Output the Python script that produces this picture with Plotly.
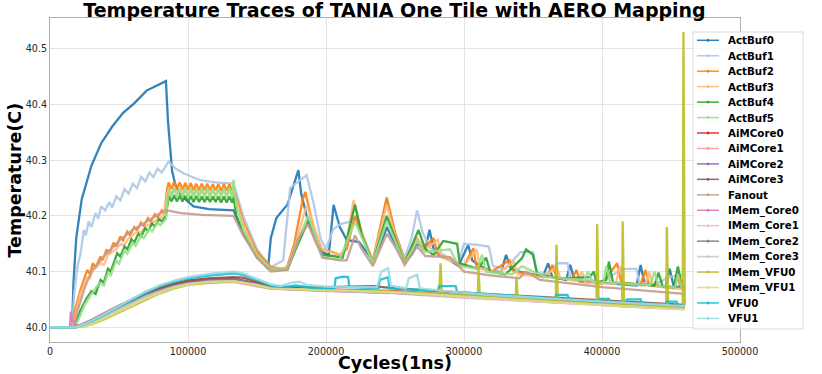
import plotly.graph_objects as go

# ---------------- data ----------------
series_names = ["ActBuf0", "ActBuf1", "ActBuf2", "ActBuf3", "ActBuf4", "ActBuf5",
                "AiMCore0", "AiMCore1", "AiMCore2", "AiMCore3", "Fanout",
                "IMem_Core0", "IMem_Core1", "IMem_Core2", "IMem_Core3",
                "IMem_VFU0", "IMem_VFU1", "VFU0", "VFU1"]

series_colors = ["#1f77b4", "#aec7e8", "#ff7f0e", "#ffbb78", "#2ca02c", "#98df8a",
                 "#d62728", "#ff9896", "#9467bd", "#8c564b", "#c49c94",
                 "#e377c2", "#f7b6d2", "#7f7f7f", "#c7c7c7",
                 "#bcbd22", "#dbdb8d", "#17becf", "#9edae5"]

x_ticks = [0, 100000, 200000, 300000, 400000, 500000]
y_ticks = [40.0, 40.1, 40.2, 40.3, 40.4, 40.5]

band_x = [86000, 88000, 90000, 92000, 94000, 96000, 98000, 100000, 102000, 104000, 106000, 108000,
          110000, 112000, 114000, 116000, 118000, 120000, 122000, 124000, 126000, 128000, 130000, 132000]

actbuf0 = [(0, 40.0), (16000, 40.0), (17000, 40.08), (19000, 40.16), (23000, 40.23), (30000, 40.29),
           (37000, 40.33), (45000, 40.36), (53000, 40.385), (61000, 40.402), (70000, 40.425),
           (78000, 40.435), (84000, 40.442), (85500, 40.37), (88500, 40.28), (91000, 40.255),
           (95000, 40.237), (104000, 40.217), (115000, 40.212), (133000, 40.21), (140000, 40.17),
           (150000, 40.13), (158000, 40.105), (160000, 40.16), (164000, 40.196), (172000, 40.22),
           (180000, 40.282), (182000, 40.24), (186000, 40.20), (190000, 40.175), (197000, 40.135),
           (202000, 40.13), (205500, 40.22), (210000, 40.18), (215000, 40.157), (224000, 40.153),
           (234000, 40.12), (240000, 40.15), (244000, 40.18), (250000, 40.15), (257000, 40.12),
           (262000, 40.13), (266000, 40.15), (272000, 40.14), (275000, 40.175), (278000, 40.14),
           (283000, 40.13), (290000, 40.12), (296000, 40.11), (303000, 40.148), (306000, 40.12),
           (312000, 40.11), (320000, 40.10), (327000, 40.10), (330500, 40.13), (334000, 40.105),
           (340000, 40.10), (350000, 40.095), (357000, 40.09), (361000, 40.115), (364000, 40.09),
           (370000, 40.087), (374000, 40.085), (377000, 40.112), (380000, 40.085), (390000, 40.082),
           (400000, 40.08), (410000, 40.078), (420000, 40.076), (425000, 40.075), (428000, 40.112),
           (431000, 40.077), (440000, 40.074), (446000, 40.072), (449000, 40.105), (452000, 40.073),
           (460000, 40.072)]

actbuf1 = [(0, 40.0), (16000, 40.0), (17500, 40.06), (20000, 40.11), (22000, 40.13), (24500, 40.175),
           (26000, 40.165), (28000, 40.19), (30000, 40.18), (33000, 40.205), (35000, 40.195),
           (37000, 40.217), (40000, 40.21), (43000, 40.225), (45000, 40.215), (48000, 40.235),
           (51000, 40.228), (54000, 40.248), (57000, 40.24), (60000, 40.258), (63000, 40.25),
           (66000, 40.27), (69000, 40.262), (72000, 40.278), (75000, 40.27), (78000, 40.285),
           (81000, 40.278), (86000, 40.298), (91000, 40.285), (97000, 40.276), (109000, 40.264),
           (120000, 40.26), (133000, 40.258), (140000, 40.2), (150000, 40.14), (160000, 40.108),
           (169000, 40.12), (174000, 40.25), (180000, 40.262), (186000, 40.273), (191000, 40.223),
           (196000, 40.16), (200000, 40.14), (205000, 40.175), (210000, 40.185), (218000, 40.19),
           (222000, 40.20), (226000, 40.17), (234000, 40.12), (244000, 40.234), (250000, 40.17),
           (257000, 40.125), (262000, 40.16), (266000, 40.21), (270000, 40.17), (276000, 40.14),
           (285000, 40.13), (296000, 40.115), (300000, 40.15), (310000, 40.148), (318000, 40.145),
           (321000, 40.11), (330000, 40.105), (341000, 40.135), (350000, 40.135), (353000, 40.098),
           (360000, 40.095), (368000, 40.115), (375000, 40.115), (377000, 40.09), (390000, 40.085),
           (400000, 40.082), (415000, 40.105), (425000, 40.105), (427000, 40.08), (440000, 40.078),
           (448000, 40.09), (459000, 40.095)]

actbuf2_head = [(0, 40.0), (16500, 40.0), (18000, 40.03), (22000, 40.067), (27000, 40.103),
                (29000, 40.095), (31000, 40.115), (33000, 40.108), (36600, 40.127), (38000, 40.12),
                (41000, 40.14), (43000, 40.132), (46000, 40.152), (48000, 40.145), (51000, 40.163),
                (53000, 40.156), (56000, 40.172), (58000, 40.165), (61000, 40.18), (63000, 40.174),
                (66000, 40.188), (68000, 40.182), (71000, 40.196), (73000, 40.19), (76000, 40.203),
                (78000, 40.197), (81000, 40.21), (83000, 40.205), (85000, 40.25)]
actbuf2_band = [40.26, 40.248, 40.262, 40.248, 40.26, 40.247, 40.259, 40.247, 40.259, 40.246, 40.258, 40.246,
                40.258, 40.246, 40.258, 40.246, 40.257, 40.246, 40.257, 40.245, 40.257, 40.245, 40.257, 40.245]
actbuf2_tail = [(133000, 40.25), (140000, 40.19), (150000, 40.135), (160000, 40.108), (170000, 40.105),
                (172000, 40.11), (177000, 40.15), (183000, 40.228), (185000, 40.243), (188000, 40.21),
                (192000, 40.17), (197000, 40.14), (205000, 40.135), (210000, 40.13), (215000, 40.14),
                (221000, 40.20), (226000, 40.165), (234000, 40.12), (244000, 40.232), (250000, 40.17),
                (257000, 40.12), (266000, 40.16), (270000, 40.14), (278000, 40.16), (281000, 40.13),
                (290000, 40.12), (300000, 40.11), (306700, 40.142), (309000, 40.11), (320000, 40.10),
                (333000, 40.12), (336000, 40.10), (350000, 40.095), (360000, 40.09), (364000, 40.112),
                (367000, 40.09), (378000, 40.085), (381500, 40.103), (384000, 40.082), (400000, 40.078),
                (411000, 40.115), (414000, 40.08), (428000, 40.077), (431500, 40.103), (434000, 40.076),
                (452000, 40.072), (455000, 40.09), (457000, 40.07), (460000, 40.068)]

actbuf3_head = [(0, 40.0), (16500, 40.0), (18000, 40.02), (22000, 40.06), (27000, 40.09), (29000, 40.088),
                (31000, 40.102), (36600, 40.115), (39000, 40.112), (42000, 40.13), (48000, 40.14),
                (51000, 40.15), (54000, 40.148), (57000, 40.16), (60000, 40.165), (63000, 40.172),
                (66000, 40.17), (69000, 40.18), (72000, 40.185), (76000, 40.19), (79000, 40.195),
                (82000, 40.2), (85000, 40.24)]
actbuf3_band = [40.25, 40.238, 40.251, 40.238, 40.25, 40.238, 40.25, 40.237, 40.25, 40.237, 40.249, 40.237,
                40.249, 40.237, 40.249, 40.237, 40.249, 40.237, 40.249, 40.236, 40.249, 40.236, 40.249, 40.236]
actbuf3_tail = [(133000, 40.245), (140000, 40.185), (150000, 40.13), (160000, 40.105), (172000, 40.107),
                (178000, 40.15), (186000, 40.22), (190000, 40.19), (197000, 40.14), (210000, 40.13),
                (214000, 40.14), (220000, 40.228), (226000, 40.17), (234000, 40.12), (244000, 40.22),
                (250000, 40.165), (257000, 40.12), (266000, 40.16), (272000, 40.14), (281000, 40.157),
                (284000, 40.125), (295000, 40.115), (300000, 40.11), (309000, 40.14), (312000, 40.105),
                (325000, 40.098), (336000, 40.118), (339000, 40.095), (358000, 40.09), (367000, 40.108),
                (370000, 40.088), (382000, 40.083), (385600, 40.10), (388000, 40.08), (410000, 40.078),
                (413000, 40.11), (416000, 40.078), (431000, 40.075), (434000, 40.10), (437000, 40.074),
                (460000, 40.068)]

actbuf4_head = [(0, 40.0), (17000, 40.0), (19000, 40.01), (22000, 40.03), (26000, 40.05), (30000, 40.065),
                (33000, 40.06), (36600, 40.085), (39000, 40.08), (42000, 40.105), (44000, 40.1),
                (48700, 40.133), (51000, 40.127), (54000, 40.145), (56000, 40.14), (59000, 40.158),
                (61000, 40.152), (64000, 40.168), (66000, 40.163), (69000, 40.178), (71000, 40.173),
                (74000, 40.186), (76000, 40.181), (79000, 40.194), (81000, 40.19), (84000, 40.2),
                (85500, 40.225)]
actbuf4_band = [40.236, 40.226, 40.237, 40.226, 40.236, 40.226, 40.236, 40.225, 40.236, 40.225, 40.236, 40.225,
                40.235, 40.225, 40.235, 40.225, 40.235, 40.225, 40.235, 40.224, 40.235, 40.224, 40.235, 40.224]
actbuf4_tail = [(133000, 40.235), (135000, 40.2), (140000, 40.17), (150000, 40.125), (160000, 40.103),
                (172000, 40.103), (178000, 40.14), (187000, 40.19), (192000, 40.16), (197000, 40.13),
                (205000, 40.128), (212000, 40.125), (221000, 40.22), (226000, 40.165), (234000, 40.115),
                (244000, 40.20), (250000, 40.16), (257000, 40.115), (267000, 40.175), (272000, 40.14),
                (278000, 40.13), (285000, 40.155), (295000, 40.15), (297000, 40.115), (310000, 40.105),
                (316000, 40.125), (319000, 40.1), (330000, 40.095), (342000, 40.124), (345000, 40.14),
                (350000, 40.13), (353000, 40.095), (370000, 40.088), (391000, 40.09), (394000, 40.10),
                (396000, 40.08), (403000, 40.085), (405000, 40.118), (408000, 40.08), (438000, 40.075),
                (441000, 40.098), (444000, 40.073), (452000, 40.072), (455000, 40.109), (458000, 40.072),
                (460000, 40.07)]

actbuf5_head = [(0, 40.0), (17000, 40.0), (20000, 40.01), (25000, 40.04), (30000, 40.06), (36000, 40.08),
                (39000, 40.075), (42000, 40.098), (44000, 40.093), (48000, 40.12), (50000, 40.114),
                (54000, 40.138), (56000, 40.132), (60000, 40.152), (62000, 40.146), (66000, 40.165),
                (68000, 40.16), (72000, 40.177), (74000, 40.172), (78000, 40.188), (80000, 40.183),
                (84000, 40.195), (85500, 40.235)]
actbuf5_band = [40.25, 40.233, 40.251, 40.233, 40.25, 40.233, 40.25, 40.232, 40.25, 40.232, 40.25, 40.232,
                40.25, 40.232, 40.25, 40.232, 40.25, 40.232, 40.25, 40.232, 40.25, 40.232, 40.25, 40.232]
actbuf5_tail = [(133000, 40.265), (135000, 40.22), (140000, 40.175), (150000, 40.128), (160000, 40.103),
                (172000, 40.104), (178000, 40.145), (187000, 40.20), (192000, 40.165), (197000, 40.125),
                (210000, 40.122), (221000, 40.19), (226000, 40.16), (234000, 40.115), (244000, 40.19),
                (250000, 40.155), (257000, 40.115), (266000, 40.155), (272000, 40.135), (290000, 40.14),
                (296000, 40.11), (310000, 40.105), (313000, 40.13), (316000, 40.1), (335000, 40.095),
                (342000, 40.11), (350000, 40.1), (360000, 40.09), (372000, 40.088), (387000, 40.085),
                (390000, 40.10), (393000, 40.082), (401000, 40.08), (403000, 40.11), (406000, 40.08),
                (435000, 40.076), (438000, 40.10), (441000, 40.074), (453000, 40.072), (455000, 40.095),
                (458000, 40.07), (460000, 40.068)]

fanout = [(0, 40.0), (17000, 40.0), (20000, 40.03), (25000, 40.07), (30000, 40.1), (35000, 40.115),
          (40000, 40.13), (45000, 40.142), (50000, 40.155), (55000, 40.165), (60000, 40.175),
          (65000, 40.182), (70000, 40.19), (75000, 40.197), (80000, 40.205), (85000, 40.21),
          (95000, 40.205), (110000, 40.202), (133000, 40.20), (140000, 40.165), (150000, 40.125),
          (160000, 40.10), (172000, 40.103), (180000, 40.16), (187000, 40.185), (193000, 40.15),
          (198000, 40.125), (210000, 40.12), (215000, 40.12), (221000, 40.165), (226000, 40.14),
          (234000, 40.11), (244000, 40.168), (250000, 40.145), (257000, 40.112), (266000, 40.145),
          (272000, 40.128), (290000, 40.126), (300000, 40.1), (320000, 40.093), (340000, 40.088),
          (345000, 40.1), (355000, 40.085), (380000, 40.078), (400000, 40.072), (420000, 40.068),
          (440000, 40.064), (460000, 40.06)]

aimcore0 = [(0, 40.0), (17500, 40.0), (22000, 40.004), (30000, 40.013), (40000, 40.026), (50000, 40.039),
            (60000, 40.05), (70000, 40.062), (80000, 40.071), (90000, 40.078), (100000, 40.083),
            (115000, 40.087), (133000, 40.088), (150000, 40.079), (160000, 40.072), (175000, 40.07),
            (200000, 40.068), (250000, 40.065), (300000, 40.057), (350000, 40.05), (400000, 40.044),
            (460000, 40.036)]
aimcore1 = [(0, 40.0), (18000, 40.0), (22000, 40.003), (30000, 40.011), (40000, 40.023), (50000, 40.036),
            (60000, 40.047), (70000, 40.059), (80000, 40.068), (90000, 40.076), (100000, 40.081),
            (115000, 40.085), (133000, 40.086), (150000, 40.077), (160000, 40.071), (175000, 40.069),
            (200000, 40.067), (250000, 40.063), (300000, 40.055), (350000, 40.048), (400000, 40.042),
            (460000, 40.035)]
aimcore2 = [(0, 40.0), (18000, 40.0), (22000, 40.003), (30000, 40.01), (40000, 40.022), (50000, 40.035),
            (60000, 40.046), (70000, 40.058), (80000, 40.067), (90000, 40.075), (100000, 40.081),
            (115000, 40.085), (133000, 40.087), (150000, 40.078), (160000, 40.071), (175000, 40.069),
            (200000, 40.067), (250000, 40.064), (300000, 40.056), (350000, 40.049), (400000, 40.043),
            (460000, 40.035)]
aimcore3 = [(0, 40.0), (18000, 40.0), (22000, 40.003), (30000, 40.011), (40000, 40.023), (50000, 40.036),
            (60000, 40.048), (70000, 40.06), (80000, 40.07), (90000, 40.078), (100000, 40.084),
            (115000, 40.088), (133000, 40.09), (140000, 40.089), (150000, 40.081), (160000, 40.074),
            (175000, 40.072), (200000, 40.072), (234000, 40.074), (250000, 40.07), (300000, 40.062),
            (350000, 40.055), (400000, 40.048), (460000, 40.04)]

imem_core0 = [(0, 40.0), (14500, 40.0), (15000, 40.028), (16000, 40.015), (18000, 40.005), (22000, 40.003),
              (30000, 40.01), (40000, 40.022), (50000, 40.034), (60000, 40.046), (70000, 40.057),
              (80000, 40.066), (90000, 40.073), (100000, 40.078), (115000, 40.081), (133000, 40.082),
              (150000, 40.075), (160000, 40.07), (200000, 40.066), (250000, 40.062), (300000, 40.054),
              (326000, 40.051), (327000, 40.057), (328000, 40.051), (350000, 40.047), (372000, 40.044),
              (373000, 40.05), (374000, 40.044), (387000, 40.042), (388000, 40.048), (389000, 40.042),
              (420000, 40.037), (421000, 40.043), (422000, 40.037), (436000, 40.035), (437000, 40.041),
              (438000, 40.035), (460000, 40.033)]
imem_core1 = [(0, 40.0), (18000, 40.0), (22000, 40.002), (30000, 40.009), (40000, 40.021), (50000, 40.033),
              (60000, 40.045), (70000, 40.056), (80000, 40.065), (90000, 40.072), (100000, 40.077),
              (115000, 40.08), (133000, 40.081), (150000, 40.074), (160000, 40.069), (200000, 40.065),
              (250000, 40.061), (300000, 40.053), (350000, 40.046), (400000, 40.04), (460000, 40.033)]
imem_core2 = [(0, 40.0), (18000, 40.0), (22000, 40.002), (30000, 40.009), (40000, 40.021), (50000, 40.034),
              (60000, 40.046), (70000, 40.057), (80000, 40.066), (90000, 40.074), (100000, 40.079),
              (115000, 40.083), (133000, 40.084), (150000, 40.076), (160000, 40.07), (200000, 40.066),
              (250000, 40.062), (300000, 40.055), (334000, 40.051), (335000, 40.057), (336000, 40.051),
              (356000, 40.048), (357000, 40.054), (358000, 40.048), (380000, 40.045), (381000, 40.051),
              (382000, 40.045), (400000, 40.042), (401000, 40.048), (402000, 40.042), (430000, 40.038),
              (431000, 40.044), (432000, 40.038), (460000, 40.034)]
imem_core3 = [(0, 40.0), (18000, 40.0), (22000, 40.002), (30000, 40.009), (40000, 40.02), (50000, 40.033),
              (60000, 40.044), (70000, 40.056), (80000, 40.065), (90000, 40.073), (100000, 40.078),
              (115000, 40.082), (133000, 40.083), (150000, 40.075), (160000, 40.07), (200000, 40.066),
              (250000, 40.062), (300000, 40.054), (350000, 40.047), (400000, 40.041), (460000, 40.034)]

imem_vfu0 = [(0, 40.0), (19000, 40.0), (25000, 40.002), (30000, 40.005), (40000, 40.015), (50000, 40.027),
             (60000, 40.038), (70000, 40.05), (80000, 40.061), (90000, 40.07), (100000, 40.076),
             (115000, 40.08), (133000, 40.083), (150000, 40.076), (160000, 40.07), (200000, 40.067),
             (250000, 40.064), (282000, 40.06), (283000, 40.115), (284000, 40.06), (310000, 40.056),
             (310500, 40.106), (311500, 40.056), (337500, 40.052), (338000, 40.091), (339000, 40.052),
             (366500, 40.048), (367000, 40.148), (368000, 40.047), (396000, 40.043), (396500, 40.185),
             (397500, 40.043), (414500, 40.041), (415000, 40.19), (416000, 40.041), (446500, 40.037),
             (447000, 40.18), (448000, 40.037), (458500, 40.035), (459000, 40.53), (460000, 40.04)]
imem_vfu1 = [(0, 40.0), (19000, 40.0), (25000, 40.003), (30000, 40.006), (40000, 40.017), (50000, 40.029),
             (60000, 40.04), (70000, 40.052), (80000, 40.062), (90000, 40.071), (100000, 40.077),
             (115000, 40.081), (133000, 40.083), (150000, 40.076), (160000, 40.07), (200000, 40.067),
             (250000, 40.063), (300000, 40.055), (350000, 40.047), (400000, 40.04), (460000, 40.032)]

vfu0 = [(0, 40.0), (18000, 40.0), (22000, 40.003), (30000, 40.011), (40000, 40.024), (50000, 40.037),
        (60000, 40.05), (70000, 40.063), (80000, 40.074), (90000, 40.082), (100000, 40.088),
        (115000, 40.093), (133000, 40.097), (140000, 40.094), (150000, 40.085), (160000, 40.075),
        (170000, 40.072), (178000, 40.075), (190000, 40.071), (206000, 40.07), (207000, 40.088),
        (212000, 40.091), (216000, 40.09), (217000, 40.072), (238000, 40.07), (239000, 40.085),
        (245000, 40.09), (246000, 40.07), (270000, 40.067), (281000, 40.066), (282000, 40.074),
        (294000, 40.074), (295000, 40.063), (340000, 40.056), (366000, 40.052), (367000, 40.058),
        (375000, 40.058), (376000, 40.05), (397000, 40.046), (398000, 40.051), (405000, 40.051),
        (406000, 40.045), (417000, 40.044), (418000, 40.05), (428000, 40.05), (429000, 40.043),
        (446000, 40.041), (447000, 40.046), (454000, 40.046), (455000, 40.04), (460000, 40.038)]
vfu1 = [(0, 40.0), (18000, 40.0), (22000, 40.003), (30000, 40.012), (40000, 40.025), (50000, 40.038),
        (60000, 40.052), (70000, 40.065), (80000, 40.076), (90000, 40.084), (100000, 40.09),
        (115000, 40.096), (133000, 40.10), (140000, 40.097), (150000, 40.087), (160000, 40.077),
        (167000, 40.074), (175000, 40.08), (181000, 40.082), (186000, 40.076), (200000, 40.073),
        (210000, 40.072), (237000, 40.072), (240000, 40.1), (245000, 40.106), (247000, 40.075),
        (258000, 40.07), (260000, 40.088), (266000, 40.094), (268000, 40.07), (290000, 40.064),
        (320000, 40.058), (360000, 40.052), (400000, 40.046), (430000, 40.042), (460000, 40.038)]


def with_band(head, band_y, tail):
    pts = list(head) + list(zip(band_x, band_y)) + list(tail)
    return pts


series_points = [actbuf0, actbuf1,
                 with_band(actbuf2_head, actbuf2_band, actbuf2_tail),
                 with_band(actbuf3_head, actbuf3_band, actbuf3_tail),
                 with_band(actbuf4_head, actbuf4_band, actbuf4_tail),
                 with_band(actbuf5_head, actbuf5_band, actbuf5_tail),
                 aimcore0, aimcore1, aimcore2, aimcore3, fanout,
                 imem_core0, imem_core1, imem_core2, imem_core3,
                 imem_vfu0, imem_vfu1, vfu0, vfu1]

# ---------------- figure ----------------
W, H = 822, 374
ML, MR, MT, MB = 50, 82, 18, 32
PW, PH = W - ML - MR, H - MT - MB
FONT = "DejaVu Sans"

fig = go.Figure()
for name, col, pts in zip(series_names, series_colors, series_points):
    fig.add_trace(go.Scatter(
        x=[p[0] for p in pts], y=[p[1] for p in pts], mode="lines", name=name,
        line=dict(color=col, width=2.3), opacity=0.9, showlegend=False, hoverinfo="skip"))


def px2paper(px, py):
    return (px - ML) / PW, (H - MB - py) / PH


shapes = []
annotations = []
# legend box
x0, y0 = px2paper(693, 32)
x1, y1 = px2paper(803, 329)
shapes.append(dict(type="rect", xref="paper", yref="paper", x0=x0, x1=x1, y0=y1, y1=y0,
                   fillcolor="rgba(255,255,255,0.8)", line=dict(color="#d9d9d9", width=1)))
for k, (name, col) in enumerate(zip(series_names, series_colors)):
    py = 40.3 + 15.45 * k
    lx0, ly = px2paper(697, py)
    lx1, _ = px2paper(719, py)
    shapes.append(dict(type="line", xref="paper", yref="paper", x0=lx0, x1=lx1, y0=ly, y1=ly,
                       line=dict(color=col, width=1.5), opacity=0.9))
    mx0, my0 = px2paper(706.8, py - 1.2)
    mx1, my1 = px2paper(709.2, py + 1.2)
    shapes.append(dict(type="circle", xref="paper", yref="paper", x0=mx0, x1=mx1, y0=my1, y1=my0,
                       fillcolor=col, line=dict(color=col, width=0.5), opacity=0.9))
    tx, ty = px2paper(726, py)
    annotations.append(dict(text=name, xref="paper", yref="paper", x=tx, y=ty, xanchor="left",
                            yanchor="middle", showarrow=False,
                            font=dict(family=FONT, size=10.3, color="#000000", weight="bold")))

# axis titles
annotations.append(dict(text="Cycles(1ns)", xref="paper", yref="paper", x=0.5, y=(H - MB - 363) / PH,
                        xanchor="center", yanchor="middle", showarrow=False,
                        font=dict(family=FONT, size=17.5, color="#000000", weight="bold")))
annotations.append(dict(text="Temperature(C)", xref="paper", yref="paper", x=(14.5 - ML) / PW, y=0.5,
                        xanchor="center", yanchor="middle", showarrow=False, textangle=-90,
                        font=dict(family=FONT, size=17.5, color="#000000", weight="bold")))

fig.update_layout(
    width=W, height=H,
    margin=dict(l=ML, r=MR, t=MT, b=MB, pad=0),
    paper_bgcolor="white", plot_bgcolor="white",
    title=dict(text="Temperature Traces of TANIA One Tile with AERO Mapping",
               x=(394.5) / W, xanchor="center", y=1 - 10.5 / H, yanchor="middle",
               font=dict(family=FONT, size=19, color="#000000", weight="bold")),
    xaxis=dict(range=[0, 500000], tickvals=x_ticks, ticktext=[str(v) for v in x_ticks],
               showgrid=True, gridcolor="#e3e3e3", gridwidth=1, zeroline=False,
               showline=True, linecolor="#b0b0b0", linewidth=1, mirror=True, ticks="",
               tickfont=dict(family=FONT, size=9.6, color="#262626")),
    yaxis=dict(range=[39.9736, 40.5553], tickvals=y_ticks, ticktext=["%.1f" % v for v in y_ticks],
               showgrid=True, gridcolor="#e3e3e3", gridwidth=1, zeroline=False,
               showline=True, linecolor="#b0b0b0", linewidth=1, mirror=True, ticks="",
               tickfont=dict(family=FONT, size=9.6, color="#262626")),
    shapes=shapes, annotations=annotations, showlegend=False, hovermode=False,
)

fig.write_html("out.html", config={"displayModeBar": False},
               post_script="document.body.style.margin='0px';document.body.style.padding='0px';"
                           "document.body.style.overflow='hidden';")
